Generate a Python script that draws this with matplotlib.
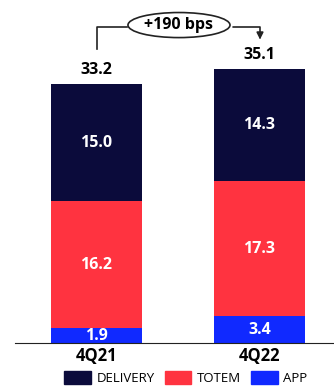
import numpy as np
import matplotlib.pyplot as plt
from matplotlib.patches import Ellipse, Patch

quarters = ['4Q21', '4Q22']
app = [1.9, 3.4]
totem = [16.2, 17.3]
delivery = [15.0, 14.3]
totals = [33.2, 35.1]
change_label = '+190 bps'

c_delivery = '#0b0b3b'
c_totem = '#ff3340'
c_app = '#1029ff'

plt.rcParams['font.family'] = ['Open Sans', 'DejaVu Sans']

fig = plt.figure(figsize=(3.34, 3.88), dpi=100)
ax = fig.add_axes([15 / 334, 45 / 388, 319 / 334, 343 / 388])

x = np.arange(len(quarters))
w = 0.558
app = np.array(app)
totem = np.array(totem)
delivery = np.array(delivery)

ax.bar(x, app, w, color=c_app)
ax.bar(x, totem, w, bottom=app, color=c_totem)
ax.bar(x, delivery, w, bottom=app + totem, color=c_delivery)

fs = 11.5
for i in range(len(x)):
    ax.text(x[i], app[i] / 2 - 0.1, f'{app[i]:.1f}', ha='center', va='center',
            color='white', fontsize=fs, fontweight='bold')
    ax.text(x[i], app[i] + totem[i] / 2, f'{totem[i]:.1f}', ha='center', va='center',
            color='white', fontsize=fs, fontweight='bold')
    ax.text(x[i], app[i] + totem[i] + delivery[i] / 2, f'{delivery[i]:.1f}', ha='center',
            va='center', color='white', fontsize=fs, fontweight='bold')
    ax.text(x[i], totals[i] + 1.7, f'{totals[i]:.1f}', ha='center', va='center',
            color='black', fontsize=fs, fontweight='bold')

# bracket with ellipse label
ey = 40.6
ax.plot([0, 0, 0.19], [37.5, 40.4, 40.4], color='#222222', lw=1.2)
ax.annotate('', xy=(1.003, 38.4), xytext=(0.82, 40.4),
            arrowprops=dict(arrowstyle='-|>', color='#222222', lw=1.2,
                            connectionstyle='angle,angleA=0,angleB=90,rad=0',
                            mutation_scale=10))
ax.add_patch(Ellipse((0.506, ey), 0.626, 3.2, facecolor='white', edgecolor='#222222', lw=1.2))
ax.text(0.506, ey, change_label, ha='center', va='center', fontsize=11.5, fontweight='bold')

ax.set_xlim(-0.5, 1.457)
ax.set_ylim(0, 43.8)
for s in ['top', 'right', 'left']:
    ax.spines[s].set_visible(False)
ax.spines['bottom'].set_color('#222222')
ax.set_yticks([])
ax.set_xticks(x)
ax.set_xticklabels(quarters, fontsize=12, fontweight='bold')
ax.tick_params(axis='x', length=0, pad=3)

handles = [Patch(color=c_delivery, label='DELIVERY'),
           Patch(color=c_totem, label='TOTEM'),
           Patch(color=c_app, label='APP')]
fig.legend(handles=handles, loc='center', bbox_to_anchor=(0.557, 10 / 388), ncol=3,
           frameon=False, fontsize=9.5, handlelength=2.0, handleheight=1.1,
           columnspacing=0.75, handletextpad=0.45)

fig.savefig('out.png', dpi=100)
